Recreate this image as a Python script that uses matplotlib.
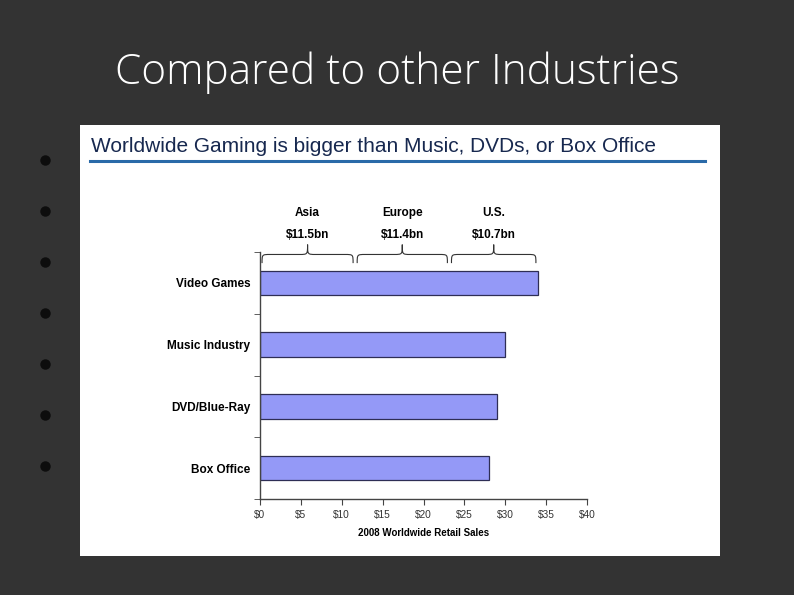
import matplotlib.pyplot as plt
import numpy as np
from matplotlib.patches import Rectangle, PathPatch
from matplotlib.path import Path
from matplotlib.transforms import blended_transform_factory

categories = ["Video Games", "Music Industry", "DVD/Blue-Ray", "Box Office"]
sales = [34, 30, 29, 28]
regions = ["Asia", "Europe", "U.S."]
region_sales = [11.5, 11.4, 10.7]
region_labels = ["$11.5bn", "$11.4bn", "$10.7bn"]
xticks = [0, 5, 10, 15, 20, 25, 30, 35, 40]

plt.rcParams['font.family'] = ['Liberation Sans', 'DejaVu Sans']

fig = plt.figure(figsize=(7.94, 5.95), dpi=100)
fig.patch.set_facecolor('#333333')

# slide layer in pixel coordinates
bg = fig.add_axes([0, 0, 1, 1])
bg.set_xlim(0, 794)
bg.set_ylim(595, 0)
bg.axis('off')
bg.add_patch(Rectangle((80, 125), 640, 431, facecolor='white', edgecolor='none'))
bg.plot([90, 705], [161, 161], color='#2a6aa8', lw=2.2)
bg.text(91, 146, "Worldwide Gaming is bigger than Music, DVDs, or Box Office",
        fontsize=15, color='#17284f', va='center', ha='left')
bg.text(397, 73, "Compared to other Industries", fontsize=30.5, color='white',
        ha='center', va='center', family=['Open Sans', 'DejaVu Sans'], fontweight='light')
bullet_y = [160, 211, 262, 313, 364, 415, 466]
bg.plot([45] * len(bullet_y), bullet_y, 'o', color='#0d0d0d', ms=6.5, ls='none')

ax = fig.add_axes([260 / 794, 1 - 499 / 595, 327 / 794, 247 / 595])
ax.patch.set_alpha(0)
y = np.arange(len(categories))
ax.barh(y, sales, height=0.4, color='#9499f7', edgecolor='#2e2e55', lw=0.9)
ax.set_ylim(len(categories) - 0.5, -0.5)
ax.set_xlim(0, 40)
ax.set_yticks(y)
ax.set_yticklabels(categories, fontsize=8.5, fontweight='bold')
ax.tick_params(axis='y', length=0, pad=7)
ax.set_yticks(np.arange(-0.5, len(categories) + 0.5, 1), minor=True)
ax.tick_params(axis='y', which='minor', length=4, direction='out', color='#444444')
ax.set_xticks(xticks)
ax.set_xticklabels([f"${v}" for v in xticks], fontsize=7.3, color='#333333')
ax.tick_params(axis='x', length=4, direction='out', color='#444444', pad=4)
ax.set_xlabel("2008 Worldwide Retail Sales", fontsize=7, fontweight='bold', labelpad=6)
for s in ['top', 'right']:
    ax.spines[s].set_visible(False)
for s in ['left', 'bottom']:
    ax.spines[s].set_color('#444444')
    ax.spines[s].set_linewidth(1)

# braces above the video games bar
tr = blended_transform_factory(ax.transData, ax.transAxes)
bounds = np.concatenate([[0], np.cumsum(region_sales)]) / sum(region_sales) * sales[0]
y_end, y_mid, y_peak = 0.955, 0.99, 1.03
for i in range(len(regions)):
    x0, x1 = bounds[i] + 0.25, bounds[i + 1] - 0.25
    xm = (x0 + x1) / 2
    r = 1.0
    verts = [(x0, y_end), (x0, y_mid), (x0, y_mid), (x0 + r, y_mid),
             (xm - r, y_mid), (xm, y_mid), (xm, y_mid), (xm, y_peak),
             (xm, y_mid), (xm, y_mid), (xm + r, y_mid),
             (x1 - r, y_mid), (x1, y_mid), (x1, y_mid), (x1, y_end)]
    codes = [Path.MOVETO, Path.CURVE4, Path.CURVE4, Path.CURVE4,
             Path.LINETO, Path.CURVE4, Path.CURVE4, Path.CURVE4,
             Path.CURVE4, Path.CURVE4, Path.CURVE4,
             Path.LINETO, Path.CURVE4, Path.CURVE4, Path.CURVE4]
    ax.add_patch(PathPatch(Path(verts, codes), transform=tr, fill=False,
                           edgecolor='#333333', lw=0.8, clip_on=False))
    ax.text(xm, 1.158, regions[i], transform=tr, ha='center', va='center',
            fontsize=8.5, fontweight='bold')
    ax.text(xm, 1.069, region_labels[i], transform=tr, ha='center', va='center',
            fontsize=8.5, fontweight='bold')

fig.savefig("out.png", dpi=100, facecolor=fig.get_facecolor())
